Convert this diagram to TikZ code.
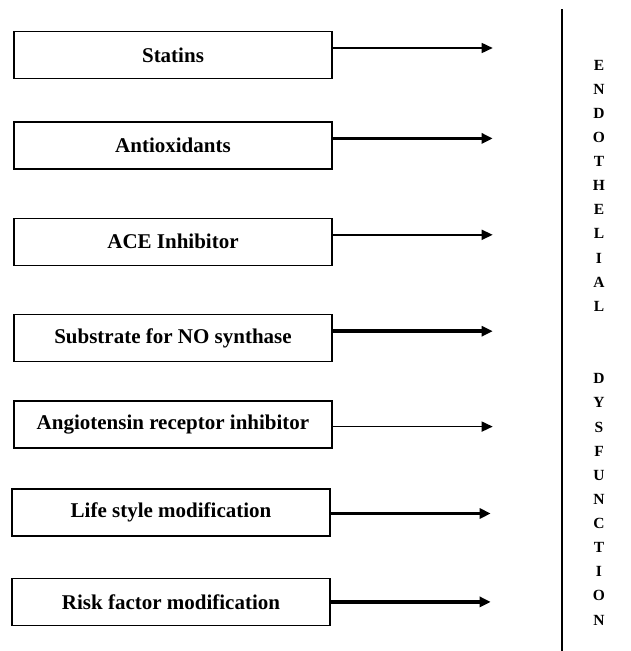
\documentclass[tikz,border=0pt]{standalone}
\usepackage{fontspec}
\setmainfont{Liberation Serif}
\usetikzlibrary{arrows.meta, positioning}

\begin{document}
\begin{tikzpicture}[x=1pt, y=-1pt, node distance=42pt and 160pt, >={Triangle[length=11pt, width=10pt]},
    remedy/.style={rectangle, draw, line width=1.4pt, text centered, inner sep=0pt, minimum width=318pt, minimum height=47pt, font=\fontsize{21pt}{25pt}\selectfont\bfseries},
    thinarrow/.style={->, line width=1.6pt},
    thickarrow/.style={->, line width=3.6pt},
    letter/.style={inner sep=0pt, font=\fontsize{15.5pt}{18pt}\selectfont\bfseries},
    point/.style={coordinate}]

    \useasboundingbox (0,0) rectangle (631,651);

    \node (statins) [remedy] at (173,55) {Statins};
    \node (antiox) [remedy, below=42pt of statins] {Antioxidants};
    \node (ace) [remedy, below=48pt of antiox] {ACE Inhibitor};
    \node (substrate) [remedy, below=48pt of ace] {Substrate for NO synthase};
    \node (angio) [remedy, below=38pt of substrate] {Angiotensin receptor inhibitor};
    \node (lifestyle) [remedy, below=39.5pt of angio, xshift=-2pt] {Life style modification};
    \node (risk) [remedy, below=41pt of lifestyle] {Risk factor modification};

    % Arrow tips
    \node (statins_tip) [point, above right=7pt and 160pt of statins.east] {};
    \node (antiox_tip) [point, above right=7pt and 160pt of antiox.east] {};
    \node (ace_tip) [point, above right=7pt and 160pt of ace.east] {};
    \node (substrate_tip) [point, above right=7pt and 160pt of substrate.east] {};
    \node (angio_tip) [point, below right=2pt and 160pt of angio.east] {};
    \node (lifestyle_tip) [point, below right=1pt and 160pt of lifestyle.east] {};
    \node (risk_tip) [point, right=160pt of risk.east] {};

    % Arrows
    \draw [thinarrow] (statins.east |- statins_tip) -- (statins_tip);
    \draw [thickarrow] (antiox.east |- antiox_tip) -- (antiox_tip);
    \draw [thinarrow] (ace.east |- ace_tip) -- (ace_tip);
    \draw [thickarrow] (substrate.east |- substrate_tip) -- (substrate_tip);
    \draw [thinarrow] (angio.east |- angio_tip) -- (angio_tip);
    \draw [thickarrow] (lifestyle.east |- lifestyle_tip) -- (lifestyle_tip);
    \draw [thickarrow] (risk.east |- risk_tip) -- (risk_tip);

    % Divider
    \coordinate (rule_top) at (562,9);
    \coordinate (rule_bottom) at (562,651);
    \draw [line width=1.6pt] (rule_top) -- (rule_bottom);

    % Vertical title
    \foreach \ch [count=\i from 0] in {E,N,D,O,T,H,E,L,I,A,L}
        \node (endo\i) [letter] at (599,{65+24.13*\i}) {\ch};
    \foreach \ch [count=\i from 0] in {D,Y,S,F,U,N,C,T,I,O,N}
        \node (dys\i) [letter] at (599,{378.7+24.13*\i}) {\ch};

\end{tikzpicture}
\end{document}
